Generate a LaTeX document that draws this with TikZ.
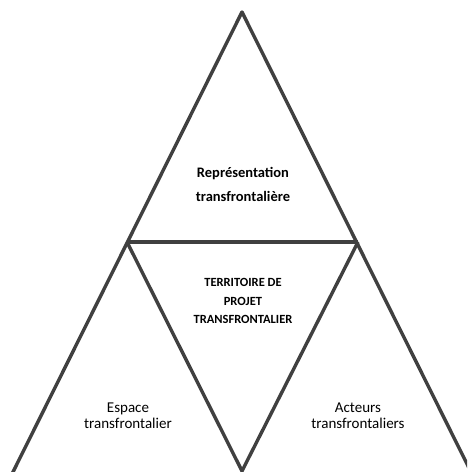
\documentclass[tikz,border=0pt]{standalone}
\usepackage{fontspec}
\setmainfont{Carlito}
\definecolor{edgegrey}{HTML}{404040}
\tikzset{
  side/.style={draw=edgegrey, line width=3.4pt, line join=round},
  label/.style={align=center, inner sep=0pt},
}
\begin{document}
\begin{tikzpicture}[x=1pt,y=-1pt]
 \useasboundingbox (0,0) rectangle (467,472);
 \clip (0,0) rectangle (467,472);

 % corners
 \coordinate (apex) at (242,12);
 \coordinate (bl) at (10,478);
 \coordinate (br) at (474,478);
 \coordinate (ml) at (127,242);
 \coordinate (mr) at (358,242);
 \coordinate (bm) at (242,471);

 % sides
 \path[side] (bl) -- (apex) -- (br);
 \path[side] (ml) -- (mr);
 \path[side] (ml) -- (bm) -- (mr);

 % texts
 \node[label, font=\fontsize{14.5}{24}\selectfont\bfseries] (repr) at (243,184) {Représentation\\transfrontalière};
 \node[label, font=\fontsize{12.5}{18.5}\selectfont\bfseries] (terr) at (243,301) {TERRITOIRE DE\\PROJET\\TRANSFRONTALIER};
 \node[label, font=\fontsize{15}{16}\selectfont] (espace) at (128,416) {Espace\\transfrontalier};
 \node[label, font=\fontsize{15}{16}\selectfont] (acteurs) at (358,416) {Acteurs\\transfrontaliers};

\end{tikzpicture}
\end{document}
